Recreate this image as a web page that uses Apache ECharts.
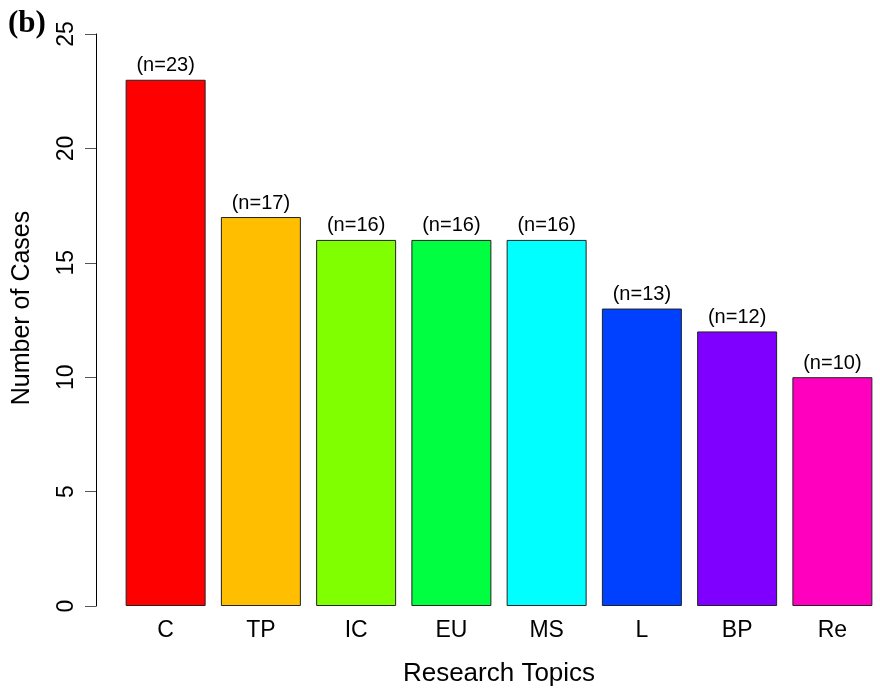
<!DOCTYPE html>
<html>
<head>
<meta charset="utf-8">
<script src="https://cdn.jsdelivr.net/npm/echarts@6/dist/echarts.min.js"></script>
<style>html,body{margin:0;padding:0;background:#fff}#c{width:880px;height:692px}</style>
</head>
<body>
<div id="c"></div>
<script>
var categories = ['C', 'TP', 'IC', 'EU', 'MS', 'L', 'BP', 'Re'];
var values = [23, 17, 16, 16, 16, 13, 12, 10];
var colors = ['#FF0000', '#FFBF00', '#80FF00', '#00FF40', '#00FFFF', '#0040FF', '#8000FF', '#FF00BF'];
var yTicks = [0, 5, 10, 15, 20, 25];

var font = 'Liberation Sans, Arial, Helvetica, sans-serif';
var chart = echarts.init(document.getElementById('c'), null, {renderer: 'canvas'});
chart.setOption({
  animation: false,
  backgroundColor: '#fff',
  title: {
    text: '(b)', left: 3, top: 3,
    textStyle: {fontFamily: 'Liberation Serif, Times New Roman, serif', fontWeight: 'bold', fontSize: 31, color: '#000'}
  },
  graphic: [{
    type: 'text',
    x: 22, y: 308,
    rotation: Math.PI / 2,
    style: {
      text: 'Number of Cases',
      fontFamily: font, fontSize: 25, fill: '#000',
      align: 'center', verticalAlign: 'middle'
    }
  }],
  grid: {left: 118, width: 765, top: 34, bottom: 85, containLabel: false},
  xAxis: {
    type: 'category',
    data: categories,
    axisLine: {show: false},
    axisTick: {show: false},
    axisLabel: {fontFamily: font, fontSize: 23, color: '#000', margin: 13},
    name: 'Research Topics',
    nameLocation: 'middle',
    nameGap: 55,
    nameTextStyle: {fontFamily: font, fontSize: 26, color: '#000'}
  },
  yAxis: {
    type: 'value',
    min: yTicks[0], max: yTicks[yTicks.length - 1], interval: 5,
    offset: 22,
    axisLine: {show: true, lineStyle: {color: '#000', width: 1}},
    axisTick: {show: true, inside: false, length: 11, lineStyle: {color: '#555', width: 1}},
    splitLine: {show: false},
    axisLabel: {fontFamily: font, fontSize: 23, color: '#000', rotate: 90, margin: 18}
  },
  series: [{
    type: 'bar',
    barWidth: 80,
    data: values.map(function (v, i) {
      return {value: v, itemStyle: {color: colors[i]}};
    }),
    itemStyle: {borderColor: '#222', borderWidth: 1},
    label: {
      show: true, position: 'top', distance: 4,
      fontFamily: font, fontSize: 20, color: '#000',
      formatter: function (p) { return '(n=' + p.value + ')'; }
    }
  }]
});
</script>
</body>
</html>
